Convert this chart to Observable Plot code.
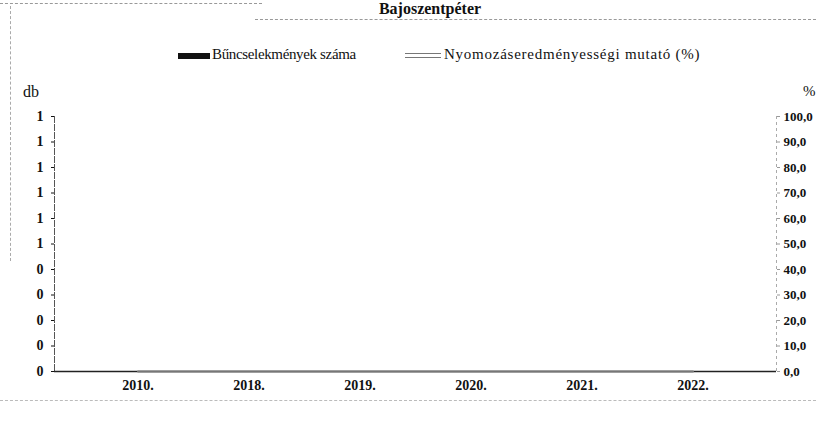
<!DOCTYPE html>
<html>
<head>
<meta charset="utf-8">
<script src="https://cdn.jsdelivr.net/npm/d3@7"></script>
<script src="https://cdn.jsdelivr.net/npm/@observablehq/plot@0.6"></script>
<style>
  html, body { margin: 0; padding: 0; background: #fff; }
  #wrap { position: relative; width: 816px; height: 430px; overflow: hidden; background: #fff; font-family: "Liberation Serif", serif; color: #111; }
  #wrap svg.plot { position: absolute; left: 0; top: 0; }
  .abs { position: absolute; white-space: nowrap; }
  #title { left: 0; width: 860px; text-align: center; top: 0px; font-size: 16px; line-height: 17px; font-weight: bold; }
  .leg { top: 46px; font-size: 15px; }
  .sw1 { position: absolute; left: 178px; top: 53px; width: 32px; height: 6px; background: #111; }
  .sw2 { position: absolute; left: 405px; top: 53px; width: 36px; height: 5px; border-top: 1.5px solid #777; border-bottom: 1.5px solid #777; box-sizing: border-box; }
  .dots { position: absolute; border-top: 1px dashed #999; height: 0; }
  .vdots { position: absolute; border-left: 1px dashed #aaa; width: 0; }
  #db { left: 23px; top: 83px; font-size: 16px; }
  #pct { left: 803px; top: 83px; font-size: 15px; }
</style>
</head>
<body>
<div id="wrap">
  <div class="dots" style="left:0;top:3px;width:262px;"></div>
  <div class="dots" style="left:255px;top:19px;width:561px;"></div>
  <div class="vdots" style="left:10px;top:6px;height:255px;"></div>
  <div class="dots" style="left:0;top:400px;width:816px;border-top-color:#bbb;"></div>
  <div id="title" class="abs">Bajoszentpéter</div>
  <div class="sw1"></div>
  <div class="abs leg" style="left:212px;letter-spacing:-0.35px;">Bűncselekmények száma</div>
  <div class="sw2"></div>
  <div class="abs leg" style="left:444px;letter-spacing:0.75px;">Nyomozáseredményességi mutató (%)</div>
  <div id="db" class="abs">db</div>
  <div id="pct" class="abs">%</div>
</div>
<script>
// Data (all values are zero)
const years = ["2010.", "2018.", "2019.", "2020.", "2021.", "2022."];
const crimes = [0, 0, 0, 0, 0, 0];
const rate = [0, 0, 0, 0, 0, 0];

// Left axis (db): 0..1 step 0.1, shown rounded to integers
const leftTicks = [0, 0.1, 0.2, 0.3, 0.4, 0.5, 0.6, 0.7, 0.8, 0.9, 1.0];
const leftTickLabels = ["0", "0", "0", "0", "0", "1", "1", "1", "1", "1", "1"];
const leftMax = 1;

// Right axis (%): 0..100 step 10
const rightTicks = [0, 10, 20, 30, 40, 50, 60, 70, 80, 90, 100];
const rightTickLabels = ["0,0", "10,0", "20,0", "30,0", "40,0", "50,0", "60,0", "70,0", "80,0", "90,0", "100,0"];
const rightMax = 100;

const data = years.map((y, i) => ({year: y, crimes: crimes[i], rate: rate[i]}));
const toLeft = v => v / rightMax * leftMax;

const chart = Plot.plot({
  width: 816,
  height: 430,
  marginTop: 116,
  marginBottom: 59,
  marginLeft: 54,
  marginRight: 40,
  style: {fontFamily: "Liberation Serif, serif", fontSize: "14px", fontWeight: "bold", color: "#111", background: "transparent"},
  x: {type: "band", domain: years, padding: 0.45},
  y: {domain: [0, leftMax]},
  marks: [
    Plot.frame({anchor: "left", stroke: "#555", strokeDasharray: "6,2"}),
    Plot.frame({anchor: "right", stroke: "#aaa", strokeDasharray: "2,4"}),
    Plot.axisY(leftTicks, {
      anchor: "left", tickSize: 3, tickPadding: 8, label: null, fontSize: 14,
      tickFormat: d => leftTickLabels[leftTicks.indexOf(d)]
    }),
    Plot.axisY(rightTicks.map(toLeft), {
      anchor: "right", tickSize: 3, tickPadding: 4, label: null, stroke: "#999", fontSize: 13,
      tickFormat: d => rightTickLabels[rightTicks.map(toLeft).indexOf(d)]
    }),
    Plot.axisX({anchor: "bottom", tickSize: 0, tickPadding: 9, label: null, fontSize: 14}),
    Plot.barY(data, {x: "year", y: "crimes", fill: "#111"}),
    Plot.ruleY([0], {stroke: "#222", strokeWidth: 1.5}),
    Plot.line(data, {x: "year", y: d => toLeft(d.rate), stroke: "#777", strokeWidth: 2})
  ]
});
chart.classList.add("plot");
document.getElementById("wrap").appendChild(chart);
</script>
</body>
</html>
